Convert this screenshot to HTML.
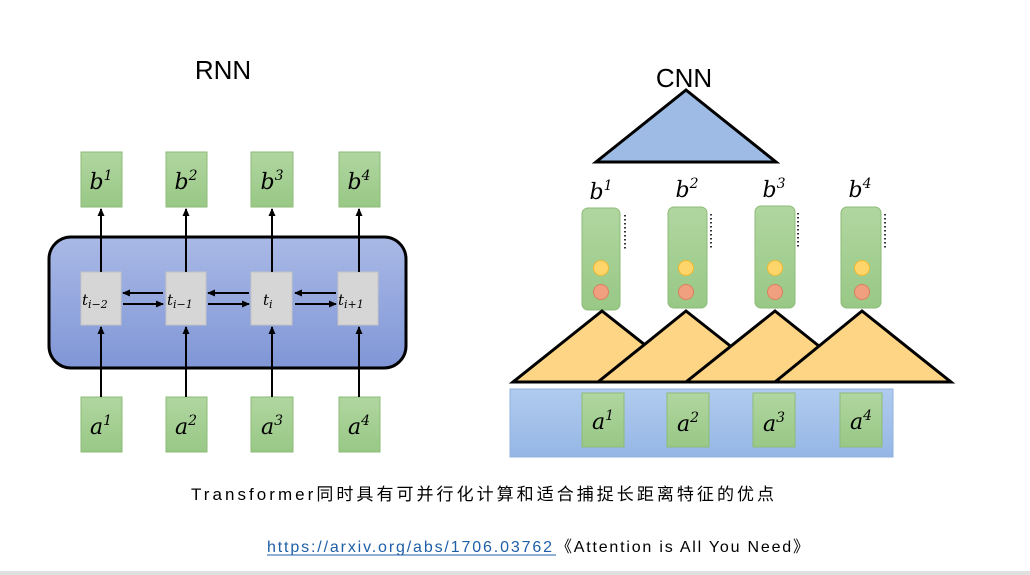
<!DOCTYPE html>
<html><head><meta charset="utf-8"><style>
body{margin:0;background:#fff;width:1030px;height:575px;overflow:hidden}
svg{display:block}
.m{font-family:"DejaVu Serif","Liberation Serif",serif;font-style:italic}
</style></head><body>
<svg width="1030" height="575" viewBox="0 0 1030 575" xmlns="http://www.w3.org/2000/svg">
<defs>
<marker id="ah" markerWidth="8" markerHeight="8" refX="7" refY="4" orient="auto" markerUnits="userSpaceOnUse"><path d="M0,0.5 L8,4 L0,7.5 z" fill="#000"/></marker>
<linearGradient id="bg" x1="0" y1="0" x2="0" y2="1"><stop offset="0" stop-color="#a9b9e6"/><stop offset="1" stop-color="#8096d6"/></linearGradient>
<linearGradient id="gr" x1="0" y1="0" x2="0" y2="1"><stop offset="0" stop-color="#b1d6a0"/><stop offset="1" stop-color="#98c886"/></linearGradient>
<linearGradient id="bl" x1="0" y1="0" x2="0" y2="1"><stop offset="0" stop-color="#b0cbee"/><stop offset="1" stop-color="#95b6e6"/></linearGradient>
</defs>
<text x="223" y="79" font-family="Liberation Sans,sans-serif" font-size="26" text-anchor="middle">RNN</text>
<text x="684" y="87" font-family="Liberation Sans,sans-serif" font-size="26" text-anchor="middle">CNN</text>
<rect x="49" y="237" width="357" height="131" rx="22" fill="url(#bg)" stroke="#000" stroke-width="3"/>
<g fill="url(#gr)" stroke="#8dbb78">
<rect x="81" y="152" width="41" height="55"/><rect x="166" y="152" width="41" height="55"/><rect x="251" y="152" width="42" height="55"/><rect x="339" y="152" width="41" height="55"/>
<rect x="81" y="397" width="41" height="55"/><rect x="166" y="397" width="41" height="55"/><rect x="251" y="397" width="42" height="55"/><rect x="339" y="397" width="41" height="55"/>
</g>
<g class="m" font-size="22" text-anchor="middle">
<text x="101" y="189">b<tspan font-size="14" dy="-9">1</tspan></text>
<text x="186" y="189">b<tspan font-size="14" dy="-9">2</tspan></text>
<text x="272" y="189">b<tspan font-size="14" dy="-9">3</tspan></text>
<text x="359" y="189">b<tspan font-size="14" dy="-9">4</tspan></text>
<text x="101" y="434">a<tspan font-size="14" dy="-9">1</tspan></text>
<text x="186" y="434">a<tspan font-size="14" dy="-9">2</tspan></text>
<text x="272" y="434">a<tspan font-size="14" dy="-9">3</tspan></text>
<text x="359" y="434">a<tspan font-size="14" dy="-9">4</tspan></text>
</g>
<g fill="#d6d6d6" stroke="#c4c4c4">
<rect x="81" y="272" width="40" height="53"/><rect x="166" y="272" width="40" height="53"/><rect x="251" y="272" width="41" height="53"/><rect x="338" y="272" width="40" height="53"/>
</g>
<g class="m" font-size="15">
<text x="82" y="305">t<tspan font-size="11" dy="3">i−2</tspan></text>
<text x="167" y="305">t<tspan font-size="11" dy="3">i−1</tspan></text>
<text x="263" y="305">t<tspan font-size="11" dy="3">i</tspan></text>
<text x="338" y="305">t<tspan font-size="11" dy="3">i+1</tspan></text>
</g>
<g stroke="#000" stroke-width="2" marker-end="url(#ah)">
<line x1="101" y1="397" x2="101" y2="327"/><line x1="186" y1="397" x2="186" y2="327"/><line x1="272" y1="397" x2="272" y2="327"/><line x1="359" y1="397" x2="359" y2="327"/>
<line x1="101" y1="272" x2="101" y2="209"/><line x1="186" y1="272" x2="186" y2="209"/><line x1="272" y1="272" x2="272" y2="209"/><line x1="359" y1="272" x2="359" y2="209"/>
<line x1="163" y1="293" x2="123" y2="293"/><line x1="123" y1="304" x2="163" y2="304"/>
<line x1="249" y1="293" x2="208" y2="293"/><line x1="208" y1="304" x2="249" y2="304"/>
<line x1="336" y1="293" x2="295" y2="293"/><line x1="295" y1="304" x2="336" y2="304"/>
</g>
<polygon points="686,90 776,162 596,162" fill="#9dbbe4" stroke="#000" stroke-width="3"/>
<g class="m" font-size="22" text-anchor="middle">
<text x="601" y="199">b<tspan font-size="14" dy="-9">1</tspan></text>
<text x="687" y="197">b<tspan font-size="14" dy="-9">2</tspan></text>
<text x="774" y="197">b<tspan font-size="14" dy="-9">3</tspan></text>
<text x="860" y="197">b<tspan font-size="14" dy="-9">4</tspan></text>
</g>
<g fill="url(#gr)" stroke="#8dbb78">
<rect x="582" y="208" width="38" height="102" rx="6"/><rect x="668" y="207" width="39" height="101" rx="6"/><rect x="755" y="206" width="40" height="102" rx="6"/><rect x="841" y="207" width="40" height="101" rx="6"/>
</g>
<g stroke="#333" stroke-width="2" stroke-dasharray="1.5,2.5">
<line x1="625" y1="215" x2="625" y2="249"/><line x1="711" y1="214" x2="711" y2="249"/><line x1="798" y1="213" x2="798" y2="248"/><line x1="885" y1="214" x2="885" y2="249"/>
</g>
<g fill="#fdd56a" stroke="#f0b830"><circle cx="601" cy="268" r="7.5"/><circle cx="686" cy="268" r="7.5"/><circle cx="775" cy="268" r="7.5"/><circle cx="862" cy="268" r="7.5"/></g>
<g fill="#f0a07e" stroke="#d98060"><circle cx="601" cy="292" r="7.5"/><circle cx="686" cy="292" r="7.5"/><circle cx="775" cy="292" r="7.5"/><circle cx="862" cy="292" r="7.5"/></g>
<g fill="#fdd585" stroke="#000" stroke-width="3" stroke-linejoin="miter">
<polygon points="602,311 692,382 513,382"/>
<polygon points="686,311 776,382 598,382"/>
<polygon points="775,311 864,382 686,382"/>
<polygon points="862,311 951,382 775,382"/>
</g>
<rect x="510" y="389" width="383" height="68" fill="url(#bl)" stroke="#8fb0df"/>
<g fill="url(#gr)" stroke="#8dbb78">
<rect x="582" y="393" width="42" height="54"/><rect x="667" y="393" width="42" height="54"/><rect x="753" y="393" width="42" height="54"/><rect x="840" y="393" width="42" height="54"/>
</g>
<g class="m" font-size="22" text-anchor="middle">
<text x="603" y="429">a<tspan font-size="14" dy="-9">1</tspan></text>
<text x="688" y="431">a<tspan font-size="14" dy="-9">2</tspan></text>
<text x="774" y="431">a<tspan font-size="14" dy="-9">3</tspan></text>
<text x="861" y="429">a<tspan font-size="14" dy="-9">4</tspan></text>
</g>
<text x="191" y="500" font-family="Liberation Sans,Noto Sans CJK SC,sans-serif" font-size="17" textLength="583">Transformer同时具有可并行化计算和适合捕捉长距离特征的优点</text>
<text x="267" y="552" font-family="Liberation Sans,Noto Sans CJK SC,sans-serif" font-size="16" fill="#1f5fa8" textLength="285">https://arxiv.org/abs/1706.03762</text>
<line x1="267" y1="555" x2="556" y2="555" stroke="#1f5fa8" stroke-width="1"/>
<text x="556" y="552" font-family="Liberation Sans,Noto Sans CJK SC,sans-serif" font-size="16" textLength="253">《Attention is All You Need》</text>
<rect x="0" y="571" width="1030" height="4" fill="#e0e0e0"/>
</svg>
</body></html>
